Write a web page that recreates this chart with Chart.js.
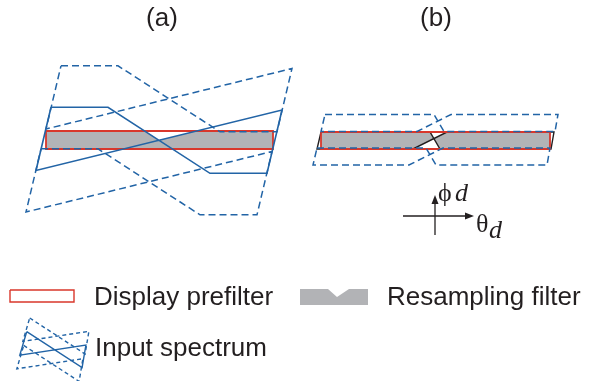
<!DOCTYPE html>
<html>
<head>
<meta charset="utf-8">
<script src="https://cdn.jsdelivr.net/npm/chart.js@4/dist/chart.umd.min.js"></script>
<style>
  html, body { margin: 0; padding: 0; background: #ffffff; }
  #wrap { width: 595px; height: 381px; }
  canvas { display: block; }
</style>
</head>
<body>
<div id="wrap"><canvas id="c" width="595" height="381"></canvas></div>
<script>
// Diagram coordinates: x to the right, y downward, one unit per pixel.

// Panel (a): input spectrum (solid) and its two replicas (dashed)
const spectrumA     = [[51,107.3],[108,107.3],[210,173.3],[267,173.3],[282,110],[36,170.5],[51,107.3]];
const spectrumAUp   = [[61,65.8],[118,65.8],[220,131.8],[277,131.8],[292,68.5],[46,129],[61,65.8]];
const spectrumADown = [[41,148.8],[98,148.8],[200,214.8],[257,214.8],[272,151.5],[26,212],[41,148.8]];
// Panel (a): display prefilter and resampling filter
const prefilterA = [[46,131],[273,131],[273,149],[46,149],[46,131]];
const resampleA  = [[46,131],[144.6,131],[159,140.3],[196.6,131],[273,131],[273,149],[46,149],[46,131]];

// Panel (b): sheared spectrum (solid, black) and replicas (dashed)
const spectrumB     = [[321,132],[430,132],[440,149],[551,149],[554,132],[447,132],[413,149],[317,149],[321,132]];
const spectrumBUp   = [[325,114.5],[434,114.5],[444,131.5],[555,131.5],[558,114.5],[451,114.5],[417,131.5],[321,131.5],[325,114.5]];
const spectrumBDown = [[317,148],[426,148],[436,165],[547,165],[550,148],[443,148],[409,165],[313,165],[317,148]];
// Panel (b): display prefilter and resampling filter
const prefilterB = [[321,132],[550,132],[550,149],[321,149],[321,132]];
const resampleB  = [[321,132],[430,132],[434,138.6],[447,132],[550,132],[550,149],[440,149],[434,138.6],[413,149],[321,149],[321,132]];

// Panel (b): frequency axes
const axisPhi   = [[435,235],[435,200]];
const axisTheta = [[403,216],[469,216]];
const headPhi   = [[435,195],[431.5,204],[438.5,204],[435,195]];
const headTheta = [[474,216],[465,212.5],[465,219.5],[474,216]];

// Legend swatches
const legendPrefilter = [[10,290],[74,290],[74,302],[10,302],[10,290]];
const legendResample  = [[300,289],[328,289],[337,297],[349,289],[368,289],[368,305],[300,305],[300,289]];
const legendSpectrum     = [[26.7,331.7],[82.1,367.7],[85.9,345],[19.8,355.1],[26.7,331.7]];
const legendSpectrumUp   = [[29.7,318],[85.1,354],[88.9,331.3],[22.8,341.4],[29.7,318]];
const legendSpectrumDown = [[23.7,345.4],[79.1,381.4],[82.9,358.7],[16.8,368.8],[23.7,345.4]];

// Text
const panelTitles = [["(a)",162,26],["(b)",436,26]];
const legendLabels = [["Display prefilter",94,305],["Resampling filter",387,305],["Input spectrum",95,356]];

const BLUE = '#2264a6';
const RED = '#d9372b';
const GRAY = '#b2b3b6';
const INK = '#231f20';

const pts = arr => arr.map(([x, y]) => ({x, y}));

function outline(arr, color, width, dash) {
  return {
    data: pts(arr), borderColor: color, borderWidth: width, borderDash: dash || [],
    fill: false, pointRadius: 0, tension: 0,
    borderJoinStyle: 'miter', borderCapStyle: 'butt'
  };
}
function solidShape(arr, color) {
  return {
    data: pts(arr), borderColor: 'rgba(0,0,0,0)', borderWidth: 0.01,
    backgroundColor: color, fill: 'shape', pointRadius: 0, tension: 0
  };
}

const DASH = [7, 4];

// Listed top layer first: Chart.js paints the first dataset last.
const datasets = [
  outline(spectrumAUp, BLUE, 1.5, DASH),
  outline(spectrumADown, BLUE, 1.5, DASH),
  outline(spectrumBUp, BLUE, 1.5, DASH),
  outline(spectrumBDown, BLUE, 1.5, DASH),
  outline(legendSpectrumUp, BLUE, 1.4, [4, 3]),
  outline(legendSpectrumDown, BLUE, 1.4, [4, 3]),
  outline(spectrumA, BLUE, 1.6),
  outline(legendSpectrum, BLUE, 1.4),
  outline(prefilterA, RED, 1.8),
  outline(prefilterB, RED, 1.8),
  outline(legendPrefilter, RED, 1.4),
  outline(spectrumB, INK, 1.4),
  outline(axisPhi, INK, 1.3),
  outline(axisTheta, INK, 1.3),
  solidShape(headPhi, INK),
  solidShape(headTheta, INK),
  solidShape(resampleA, GRAY),
  solidShape(resampleB, GRAY),
  solidShape(legendResample, GRAY)
];

const textLayer = {
  id: 'textLayer',
  afterDraw(chart) {
    const {ctx, scales: {x, y}} = chart;
    ctx.save();
    ctx.fillStyle = INK;
    ctx.textBaseline = 'alphabetic';
    ctx.font = '26px "Liberation Sans", Arial, sans-serif';
    ctx.textAlign = 'center';
    panelTitles.forEach(([t, px, py]) => ctx.fillText(t, x.getPixelForValue(px), y.getPixelForValue(py)));
    ctx.textAlign = 'left';
    legendLabels.forEach(([t, px, py]) => ctx.fillText(t, x.getPixelForValue(px), y.getPixelForValue(py)));
    // axis symbols
    ctx.font = '26px "Liberation Serif", "DejaVu Serif", serif';
    ctx.fillText('\u03D5', x.getPixelForValue(438), y.getPixelForValue(201));
    ctx.fillText('\u03B8', x.getPixelForValue(476), y.getPixelForValue(232));
    ctx.font = 'italic 26px "Liberation Serif", "DejaVu Serif", serif';
    ctx.fillText('d', x.getPixelForValue(455), y.getPixelForValue(201));
    ctx.fillText('d', x.getPixelForValue(489), y.getPixelForValue(238));
    ctx.restore();
  }
};

new Chart(document.getElementById('c'), {
  type: 'line',
  data: { datasets },
  options: {
    responsive: false,
    maintainAspectRatio: false,
    animation: false,
    events: [],
    layout: { padding: 0 },
    plugins: { legend: { display: false }, tooltip: { enabled: false } },
    scales: {
      x: { type: 'linear', min: 0, max: 595, display: false },
      y: { type: 'linear', min: 0, max: 381, reverse: true, display: false }
    }
  },
  plugins: [textLayer]
});
</script>
</body>
</html>
